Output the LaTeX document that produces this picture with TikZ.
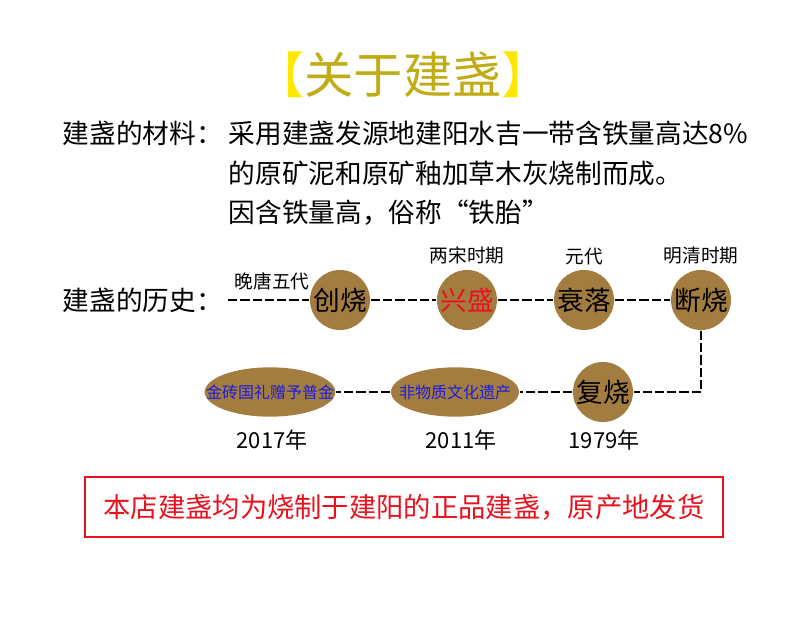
\documentclass[tikz,border=0pt]{standalone}
\usepackage{fontspec}
\setmainfont{Noto Sans CJK SC}
\usetikzlibrary{positioning,shapes.geometric}
\definecolor{jzbrown}{RGB}{163,124,64}
\definecolor{jzolive}{RGB}{192,172,22}
\definecolor{jzyellow}{RGB}{255,232,0}
\definecolor{jzred}{RGB}{232,18,30}
\definecolor{jzblue}{RGB}{28,28,225}
\newcommand\jzsize[1]{\fontsize{#1}{#1}\selectfont}

\begin{document}
\begin{tikzpicture}[x=0.75pt,y=-0.75pt,line width=1.1pt,node distance=3pt,
    plain/.style={inner sep=0pt,font=\jzsize{20}},
    era/.style={inner sep=0pt,font=\jzsize{14}},
    yearlabel/.style={inner sep=0pt,font=\jzsize{16.5}},
    kiln/.style={circle,fill=jzbrown,minimum size=45pt,inner sep=0pt,font=\jzsize{20}},
    relic/.style={ellipse,fill=jzbrown,minimum width=96pt,minimum height=37pt,inner sep=0pt},
    relictext/.style={inner sep=0pt,text=jzblue,font=\jzsize{12}},
    dashline/.style={dash pattern=on 7pt off 2.2pt}]
  \useasboundingbox (0,0) rectangle (800,617);
  % title and material
  \node[inner sep=0pt,text=jzolive,font=\jzsize{37}] (title) at (403,75)
    {{\color{jzyellow}【}关于建盏{\color{jzyellow}】}};
  \node[plain,anchor=west] (mat) at (62,133) {建盏的材料：};
  \node[plain,anchor=west] (mat1) at (228,133) {采用建盏发源地建阳水吉一带含铁量高达8\%};
  \node[plain,anchor=west] (mat2) at (228,173) {的原矿泥和原矿釉加草木灰烧制而成。};
  \node[plain,anchor=west] (mat3) at (228,213) {因含铁量高，俗称“铁胎”};
  % history, first row
  \node[plain,anchor=west] (hist) at (62,300) {建盏的历史：};
  \coordinate (start) at (228,300);
  \node[kiln] (chuang) at (340,300) {创烧};
  \node[kiln,text=jzred] (xing) at (467,300) {兴盛};
  \node[kiln] (shuai) at (584,300) {衰落};
  \node[kiln] (duan) at (701,300) {断烧};
  \node[era] (tang) at (272,281) {晚唐五代};
  \node[era,above=of xing] (song) {两宋时期};
  \node[era,above=of shuai] (yuan) {元代};
  \node[era,above=of duan] (ming) {明清时期};
  % second row
  \node[kiln] (fu) at (603,392) {复烧};
  \node[relic,label={[relictext]center:非物质文化遗产}] (ich) at (455,392) {};
  \node[relic,label={[relictext]center:金砖国礼赠予普金},minimum width=98pt] (gold) at (270,392) {};
  \node[yearlabel] (y1979) at (604,440) {1979年};
  \node[yearlabel] (y2011) at (461,440) {2011年};
  \node[yearlabel] (y2017) at (272,440) {2017年};
  \draw[dashline] (start) -- (chuang);
  \draw[dashline] (chuang) -- (xing);
  \draw[dashline] (xing) -- (shuai);
  \draw[dashline] (shuai) -- (duan);
  \draw[dashline] (duan.south) |- (fu.east);
  \draw[dashline] (fu) -- (ich);
  \draw[dashline] (ich) -- (gold);
  % notice
  \node[draw=jzred,line width=1.3pt,minimum width=478pt,minimum height=45pt,
    text=jzred,font=\jzsize{20.5}] (notice) at (404,507)
    {本店建盏均为烧制于建阳的正品建盏，原产地发货};
\end{tikzpicture}
\end{document}
